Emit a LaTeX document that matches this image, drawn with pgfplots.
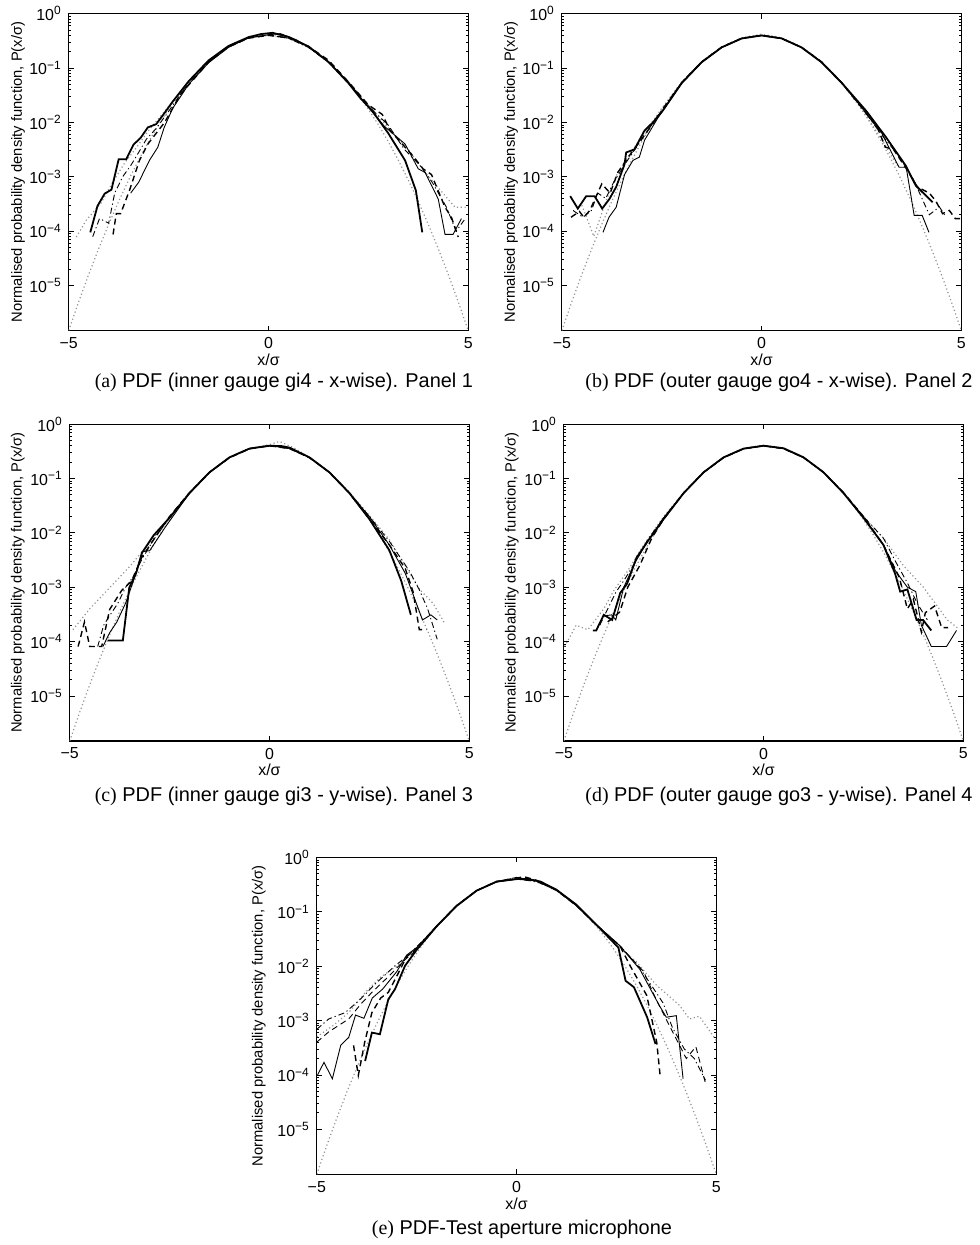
\documentclass[border=0pt]{standalone}
\usepackage{fontspec}
\setmainfont{Liberation Sans}
\newfontfamily\capserif{Liberation Serif}
\usepackage{pgfplots}
\usepackage{pgfplotstable}
\pgfplotsset{compat=1.18}

% standard normal pdf, sampled every 0.25
\pgfplotstableread{
x p
-5 1.487e-6
-4.75 5.032e-6
-4.5 1.598e-5
-4.25 4.772e-5
-4 1.338e-4
-3.75 3.526e-4
-3.5 8.727e-4
-3.25 2.029e-3
-3 4.432e-3
-2.75 9.094e-3
-2.5 1.753e-2
-2.25 3.174e-2
-2 5.399e-2
-1.75 8.628e-2
-1.5 0.12952
-1.25 0.18265
-1 0.24197
-0.75 0.30114
-0.5 0.35207
-0.25 0.38667
0 0.39894
0.25 0.38667
0.5 0.35207
0.75 0.30114
1 0.24197
1.25 0.18265
1.5 0.12952
1.75 8.628e-2
2 5.399e-2
2.25 3.174e-2
2.5 1.753e-2
2.75 9.094e-3
3 4.432e-3
3.25 2.029e-3
3.5 8.727e-4
3.75 3.526e-4
4 1.338e-4
4.25 4.772e-5
4.5 1.598e-5
4.75 5.032e-6
5 1.487e-6
}\gauss

\pgfplotsset{
  pdfax/.style={
    scale only axis, width=200.5pt, height=159pt,
    xmin=-5, xmax=5, ymin=1.487e-6, ymax=1,
    xtick={-5,0,5}, xticklabels={−5,0,5},
    ytick={1e-5,1e-4,1e-3,1e-2,1e-1,1},
    yticklabels={10\textsuperscript{−5},10\textsuperscript{−4},10\textsuperscript{−3},10\textsuperscript{−2},10\textsuperscript{−1},10\textsuperscript{0}},
    tick label style={font=\fontsize{8}{9}\selectfont},
    label style={font=\fontsize{7.4}{8.5}\selectfont},
    xlabel={x/σ},
    xlabel style={font=\fontsize{8}{9}\selectfont, at={(axis description cs:0.5,-0.092)}, anchor=center},
    ylabel={Normalised probability density function, P(x/σ)},
    major tick length=2.5pt, minor tick length=1.3pt,
    tick style={black, line width=0.4pt},
    axis line style={line width=0.6pt},
  },
  gs/.style={color=black!42, line width=0.6pt, dash pattern=on 0.6pt off 1.3pt},
  s1/.style={black, line width=0.9pt},
  s2/.style={black, line width=0.45pt},
  s3/.style={black, line width=0.7pt, dash pattern=on 3pt off 2pt},
  s3t/.style={black, line width=0.45pt, dash pattern=on 3pt off 2pt},
  s4/.style={black, line width=0.45pt, dash pattern=on 3pt off 1.5pt on 0.6pt off 1.5pt},
}
\tikzset{capt/.style={font=\fontsize{10}{11}\selectfont}}

\begin{document}
\begin{tikzpicture}
\path (0,0) rectangle (490pt,-622.5pt);

% (a)
\begin{axis}[ymode=log, pdfax, at={(34.5pt,-165pt)}, anchor=south west,
  ylabel style={at={(axis description cs:-0.127,0.5)}, anchor=center}]
\addplot[gs] table {\gauss};
\addplot[gs] coordinates {(-4.81,7.8e-5) (-4.56,1.6e-4) (-4.2,3.2e-4) (-3.9,7.9e-4) (-3.6,1.8e-3) (-3.3,3.5e-3) (-3.0,7.1e-3) (-2.6,1.6e-2) (-2.0,5.5e-2) (-1.5,0.13) (-1.0,0.245) (-0.5,0.355) (0,0.40) (0.5,0.35) (1.0,0.24) (1.5,0.13) (2.0,5.6e-2) (2.5,2.1e-2) (3.0,7.9e-3) (3.5,3.2e-3) (3.92,1.2e-3) (4.25,6.3e-4) (4.67,2.75e-4) (5.0,2.75e-4)};
\addplot[s4] coordinates {(-4.40,7.9e-5) (-4.23,1.7e-4) (-4.0,1.4e-4) (-3.85,5.0e-4) (-3.65,1.0e-3) (-3.45,1.6e-3) (-3.25,2.8e-3) (-3.05,5.0e-3) (-2.8,7.9e-3) (-2.5,1.6e-2) (-2.0,5.3e-2) (-1.5,0.13) (-1.0,0.25) (-0.5,0.36) (0,0.405) (0.5,0.355) (1.0,0.24) (1.5,0.128) (2.0,5.5e-2) (2.5,2.0e-2) (3.0,8.9e-3) (3.4,3.2e-3) (3.8,1.6e-3) (4.1,7.9e-4) (4.45,2.8e-4) (4.7,1.0e-4) (4.9,1.6e-4)};
\addplot[s3] coordinates {(-3.89,8.7e-5) (-3.81,2.1e-4) (-3.70,2.1e-4) (-3.48,5.6e-4) (-3.23,2.0e-3) (-3.02,4.0e-3) (-2.6,1.0e-2) (-2.2,3.3e-2) (-1.5,0.128) (-1.0,0.245) (-0.5,0.355) (0,0.40) (0.5,0.36) (1.0,0.25) (1.5,0.14) (2.0,5.6e-2) (2.5,2.1e-2) (2.85,1.4e-2) (3.05,7.0e-3) (3.6,2.5e-3) (3.87,1.4e-3) (4.08,1.1e-3) (4.42,2.75e-4) (4.58,1.8e-4) (4.75,7.8e-5)};
\addplot[s2] coordinates {(-3.45,5.0e-4) (-3.25,7.9e-4) (-2.98,2.0e-3) (-2.77,3.5e-3) (-2.61,8.1e-3) (-2.4,1.8e-2) (-2.0,5.0e-2) (-1.5,0.125) (-1.0,0.24) (-0.5,0.36) (0,0.41) (0.3,0.43) (0.7,0.33) (1.0,0.245) (1.5,0.13) (2.0,5.5e-2) (2.5,1.9e-2) (2.9,8.5e-3) (3.42,4.0e-3) (3.75,1.4e-3) (3.92,1.2e-3) (4.25,3.9e-4) (4.42,8.7e-5) (4.62,8.7e-5) (4.83,1.7e-4)};
\addplot[s1] coordinates {(-4.46,9.5e-5) (-4.28,2.9e-4) (-4.10,4.9e-4) (-3.93,5.8e-4) (-3.75,2.1e-3) (-3.56,2.1e-3) (-3.38,3.9e-3) (-3.20,5.2e-3) (-3.02,8.1e-3) (-2.81,9.3e-3) (-2.6,1.5e-2) (-2.4,2.4e-2) (-2.0,5.7e-2) (-1.5,0.138) (-1.0,0.255) (-0.5,0.37) (-0.2,0.42) (0.1,0.445) (0.5,0.375) (1.0,0.25) (1.5,0.13) (2.0,5.3e-2) (2.3,2.8e-2) (2.59,1.66e-2) (3.0,6.3e-3) (3.42,2.0e-3) (3.69,5.6e-4) (3.85,9.5e-5)};
\end{axis}
\node[capt] at (142.5pt,-191pt) {{\capserif (a)} PDF (inner gauge gi4 - x-wise). Panel 1};

% (b)
\begin{axis}[ymode=log, pdfax, at={(282pt,-165pt)}, anchor=south west,
  ylabel style={at={(axis description cs:-0.127,0.5)}, anchor=center}]
\addplot[gs] table {\gauss};
\addplot[gs] coordinates {(-4.5,3.0e-4) (-4.2,8.0e-5) (-3.9,3.5e-4) (-3.6,1.2e-3) (-3.3,2.6e-3) (-3.0,5.5e-3) (-2.5,1.8e-2) (-2.0,5.5e-2) (-1.5,0.13) (-1.0,0.242) (-0.5,0.36) (0,0.42) (0.5,0.36) (1.0,0.24) (1.5,0.128) (2.0,5.3e-2) (2.5,1.8e-2) (3.0,5.0e-3) (3.4,1.6e-3)};
\addplot[s4] coordinates {(-4.72,2.4e-4) (-4.47,1.8e-4) (-4.26,2.4e-4) (-4.1,5.0e-4) (-3.9,4.0e-4) (-3.7,8.0e-4) (-3.4,1.8e-3) (-3.1,3.8e-3) (-2.8,8.0e-3) (-2.5,1.7e-2) (-2.0,5.4e-2) (-1.5,0.13) (-1.0,0.24) (-0.5,0.35) (0,0.40) (0.5,0.35) (1.0,0.24) (1.5,0.128) (2.0,5.4e-2) (2.5,1.9e-2) (3.0,6.0e-3) (3.4,2.6e-3) (3.8,9.0e-4) (4.2,2.0e-4) (4.45,2.8e-4) (4.6,1.9e-4)};
\addplot[s3] coordinates {(-4.77,1.8e-4) (-4.56,2.3e-4) (-4.45,1.8e-4) (-4.3,2.4e-4) (-4.0,7.4e-4) (-3.79,5.0e-4) (-3.6,1.2e-3) (-3.3,2.5e-3) (-3.0,5.0e-3) (-2.6,1.25e-2) (-2.0,5.4e-2) (-1.5,0.13) (-1.0,0.242) (-0.5,0.352) (0,0.40) (0.5,0.35) (1.0,0.24) (1.5,0.13) (2.0,5.4e-2) (2.5,1.9e-2) (2.9,8.0e-3) (3.1,3.5e-3) (3.3,3.2e-3) (3.6,1.5e-3) (3.9,6.5e-4) (4.2,5.0e-4) (4.36,3.6e-4) (4.53,2.1e-4) (4.7,2.4e-4) (4.85,1.7e-4) (5.0,1.7e-4)};
\addplot[s2] coordinates {(-3.97,9.5e-5) (-3.82,1.8e-4) (-3.64,2.75e-4) (-3.43,1.1e-3) (-3.22,2.0e-3) (-3.06,2.3e-3) (-2.93,4.7e-3) (-2.6,1.2e-2) (-2.0,5.2e-2) (-1.5,0.127) (-1.0,0.24) (-0.5,0.35) (0,0.395) (0.5,0.35) (1.0,0.24) (1.5,0.13) (2.0,5.5e-2) (2.5,1.9e-2) (3.0,6.5e-3) (3.44,1.5e-3) (3.62,1.5e-3) (3.82,1.95e-4) (4.02,1.95e-4) (4.19,9.5e-5)};
\addplot[s1] coordinates {(-4.79,4.4e-4) (-4.60,2.6e-4) (-4.39,4.4e-4) (-4.18,4.4e-4) (-3.99,2.6e-4) (-3.81,3.9e-4) (-3.64,6.5e-4) (-3.43,1.7e-3) (-3.39,2.8e-3) (-3.18,3.2e-3) (-2.93,7.1e-3) (-2.72,1.0e-2) (-2.47,1.66e-2) (-2.0,5.3e-2) (-1.5,0.128) (-1.0,0.24) (-0.5,0.35) (0,0.398) (0.5,0.352) (1.0,0.24) (1.5,0.128) (2.0,5.4e-2) (2.61,1.66e-2) (3.11,5.4e-3) (3.61,1.6e-3) (3.86,6.9e-4) (4.28,3.4e-4)};
\end{axis}
\node[capt] at (391pt,-191pt) {{\capserif (b)} PDF (outer gauge go4 - x-wise). Panel 2};

% (c)
\begin{axis}[ymode=log, pdfax, at={(35pt,-371pt)}, anchor=south west,
  ylabel style={at={(axis description cs:-0.13,0.5)}, anchor=center}]
\addplot[gs] table {\gauss};
\addplot[gs] coordinates {(-4.92,1.65e-4) (-4.5,4.0e-4) (-4.0,9.8e-4) (-3.5,2.4e-3) (-3.0,6.5e-3) (-2.5,2.0e-2) (-2.0,5.6e-2) (-1.5,0.13) (-1.0,0.245) (-0.5,0.36) (0,0.42) (0.25,0.48) (0.6,0.37) (1.0,0.245) (1.5,0.13) (2.0,5.6e-2) (2.5,2.1e-2) (3.0,7.5e-3) (3.76,9.1e-4) (4.1,5.0e-4) (4.38,2.2e-4)};
\addplot[s4] coordinates {(-4.3,8.1e-5) (-4.15,2.0e-4) (-4.0,3.0e-4) (-3.8,5.0e-4) (-3.6,1.0e-3) (-3.4,1.6e-3) (-3.2,3.2e-3) (-2.9,7.5e-3) (-2.5,1.9e-2) (-2.0,5.4e-2) (-1.5,0.13) (-1.0,0.242) (-0.5,0.352) (0,0.40) (0.5,0.355) (1.0,0.24) (1.5,0.13) (2.0,5.5e-2) (2.5,2.0e-2) (3.0,7.0e-3) (3.5,2.0e-3) (3.75,9.0e-4) (3.96,4.0e-4) (4.2,1.1e-4)};
\addplot[s3] coordinates {(-4.79,8.1e-5) (-4.63,2.3e-4) (-4.5,8.1e-5) (-4.2,8.1e-5) (-4.0,3.9e-4) (-3.7,8.7e-4) (-3.45,1.3e-3) (-3.2,3.5e-3) (-2.9,7.5e-3) (-2.5,2.0e-2) (-2.0,5.5e-2) (-1.5,0.13) (-1.0,0.242) (-0.5,0.352) (0,0.40) (0.5,0.355) (1.0,0.242) (1.5,0.13) (2.0,5.4e-2) (2.5,1.8e-2) (3.0,6.0e-3) (3.4,2.2e-3) (3.6,8.0e-4) (3.75,1.66e-4) (3.93,1.66e-4)};
\addplot[s2] coordinates {(-4.17,8.1e-5) (-4.0,1.45e-4) (-3.82,2.3e-4) (-3.6,5.1e-4) (-3.34,1.8e-3) (-3.19,4.5e-3) (-3.0,4.7e-3) (-2.6,1.3e-2) (-2.0,5.4e-2) (-1.5,0.13) (-1.0,0.243) (-0.5,0.355) (0,0.40) (0.5,0.36) (1.0,0.245) (1.5,0.13) (2.0,5.4e-2) (2.5,2.0e-2) (3.0,6.0e-3) (3.4,1.8e-3) (3.83,2.5e-4) (4.04,3.1e-4) (4.2,2.5e-4)};
\addplot[s1] coordinates {(-4.05,1.05e-4) (-3.67,1.05e-4) (-3.51,9.8e-4) (-3.34,1.8e-3) (-3.19,4.3e-3) (-2.9,9.0e-3) (-2.5,1.9e-2) (-2.0,5.4e-2) (-1.5,0.13) (-1.0,0.245) (-0.5,0.355) (0,0.40) (0.3,0.395) (0.5,0.37) (1.0,0.245) (1.5,0.13) (2.0,5.4e-2) (2.5,1.8e-2) (3.0,4.8e-3) (3.3,1.3e-3) (3.54,3.1e-4)};
\end{axis}
\node[capt] at (142.5pt,-399pt) {{\capserif (c)} PDF (inner gauge gi3 - y-wise). Panel 3};

% (d)
\begin{axis}[ymode=log, pdfax, at={(283pt,-371pt)}, anchor=south west,
  ylabel style={at={(axis description cs:-0.13,0.5)}, anchor=center}]
\addplot[gs] table {\gauss};
\addplot[gs] coordinates {(-4.98,8.1e-5) (-4.69,2.0e-4) (-4.40,1.65e-4) (-4.0,4.0e-4) (-3.74,8.9e-4) (-3.4,2.0e-3) (-3.0,6.0e-3) (-2.5,2.0e-2) (-2.0,5.5e-2) (-1.5,0.13) (-1.0,0.245) (-0.5,0.355) (0,0.41) (0.5,0.36) (1.0,0.245) (1.5,0.13) (2.0,5.6e-2) (2.5,2.0e-2) (3.0,8.0e-3) (3.5,2.5e-3) (4.0,1.0e-3) (4.3,5.0e-4) (4.6,2.5e-4) (4.85,1.8e-4)};
\addplot[s4] coordinates {(-4.1,2.0e-4) (-3.9,4.0e-4) (-3.7,8.0e-4) (-3.45,1.5e-3) (-3.2,3.0e-3) (-2.9,7.5e-3) (-2.5,1.9e-2) (-2.0,5.4e-2) (-1.5,0.13) (-1.0,0.243) (-0.5,0.352) (0,0.40) (0.5,0.355) (1.0,0.243) (1.5,0.13) (2.0,5.5e-2) (2.5,2.0e-2) (3.0,8.0e-3) (3.3,3.0e-3) (3.6,1.2e-3) (3.85,5.0e-4) (4.1,2.5e-4)};
\addplot[s3] coordinates {(-3.9,2.3e-4) (-3.6,3.5e-4) (-3.4,1.0e-3) (-3.1,2.5e-3) (-2.8,8.0e-3) (-2.5,1.8e-2) (-2.0,5.4e-2) (-1.5,0.13) (-1.0,0.242) (-0.5,0.352) (0,0.40) (0.5,0.355) (1.0,0.243) (1.5,0.13) (2.0,5.5e-2) (2.5,2.0e-2) (3.0,6.0e-3) (3.4,1.5e-3) (3.6,4.0e-4) (3.75,6.0e-4) (3.95,1.5e-4) (4.05,3.4e-4) (4.28,4.5e-4) (4.46,1.8e-4) (4.62,1.8e-4)};
\addplot[s2] coordinates {(-3.95,3.0e-4) (-3.8,3.1e-4) (-3.7,2.5e-4) (-3.5,1.0e-3) (-3.2,3.0e-3) (-2.9,7.0e-3) (-2.5,1.9e-2) (-2.0,5.4e-2) (-1.5,0.13) (-1.0,0.243) (-0.5,0.352) (0,0.40) (0.5,0.355) (1.0,0.243) (1.5,0.13) (2.0,5.4e-2) (2.5,1.9e-2) (3.0,6.0e-3) (3.3,2.0e-3) (3.6,1.0e-3) (3.81,8.3e-4) (3.95,2.0e-4) (4.2,8.1e-5) (4.58,8.1e-5) (4.83,1.6e-4)};
\addplot[s1] coordinates {(-4.27,1.6e-4) (-4.19,1.6e-4) (-4.0,3.1e-4) (-3.79,2.5e-4) (-3.59,7.8e-4) (-3.42,1.15e-3) (-3.18,3.5e-3) (-2.9,7.0e-3) (-2.5,1.8e-2) (-2.0,5.4e-2) (-1.5,0.13) (-1.0,0.245) (-0.5,0.355) (0,0.40) (0.5,0.36) (1.0,0.245) (1.5,0.13) (2.0,5.4e-2) (2.5,1.9e-2) (3.0,6.0e-3) (3.29,1.8e-3) (3.42,8.3e-4) (3.6,9.1e-4) (3.83,2.5e-4) (3.99,2.5e-4) (4.2,1.6e-4)};
\end{axis}
\node[capt] at (391pt,-399pt) {{\capserif (d)} PDF (outer gauge go3 - y-wise). Panel 4};

% (e)
\begin{axis}[ymode=log, pdfax, at={(159pt,-588.5pt)}, anchor=south west,
  ylabel style={at={(axis description cs:-0.145,0.5)}, anchor=center}]
\addplot[gs] table {\gauss};
\addplot[gs] coordinates {(-5.0,5.0e-4) (-4.6,8.0e-4) (-4.2,1.4e-3) (-3.8,3.2e-3) (-3.4,6.3e-3) (-3.0,1.0e-2) (-2.5,2.0e-2) (-2.0,5.4e-2) (-1.5,0.13) (-1.0,0.245) (-0.5,0.355) (0,0.41) (0.5,0.37) (1.0,0.25) (1.5,0.13) (2.0,5.7e-2) (2.5,2.4e-2) (3.0,1.2e-2) (3.5,4.5e-3) (4.08,1.9e-3) (4.33,1.07e-3) (4.58,1.2e-3) (5.0,4.3e-4)};
\addplot[s4] coordinates {(-5.0,6.9e-4) (-4.70,1.07e-3) (-4.29,1.4e-3) (-3.9,2.5e-3) (-3.54,4.7e-3) (-3.04,1.02e-2) (-2.7,1.6e-2) (-2.0,5.4e-2) (-1.5,0.13) (-1.0,0.245) (-0.5,0.355) (0,0.40) (0.5,0.36) (1.0,0.25) (1.5,0.13) (2.0,5.7e-2) (2.59,2.36e-2) (3.1,9.0e-3) (3.67,2.1e-3) (3.9,7.5e-4) (4.2,3.0e-4) (4.45,2.0e-4) (4.73,8.0e-5)};
\addplot[s3t] coordinates {(-5.0,4.0e-4) (-4.7,6.2e-4) (-4.2,1.07e-3) (-3.9,2.0e-3) (-3.62,3.3e-3) (-3.2,6.5e-3) (-2.8,1.3e-2) (-2.5,2.0e-2) (-2.0,5.4e-2) (-1.5,0.13) (-1.0,0.245) (-0.5,0.36) (0,0.43) (0.5,0.37) (1.0,0.25) (1.5,0.13) (2.0,5.7e-2) (2.59,2.36e-2) (3.18,8.0e-3) (3.5,2.4e-3) (3.85,7.5e-4) (4.25,2.0e-4) (4.49,3.3e-4) (4.73,7.0e-5)};
\addplot[s3] coordinates {(-4.08,3.5e-4) (-3.96,9.8e-5) (-3.8,4.0e-4) (-3.62,1.4e-3) (-3.4,2.6e-3) (-3.21,3.3e-3) (-3.0,6.5e-3) (-2.75,1.5e-2) (-2.5,2.1e-2) (-2.0,5.4e-2) (-1.5,0.13) (-1.0,0.245) (-0.5,0.36) (0,0.42) (0.2,0.44) (0.5,0.38) (1.0,0.25) (1.5,0.13) (2.0,5.7e-2) (2.59,2.36e-2) (2.85,1.0e-2) (3.26,2.9e-3) (3.51,4.0e-4) (3.6,8.9e-5)};
\addplot[s2] coordinates {(-4.98,1.0e-4) (-4.82,1.7e-4) (-4.61,8.5e-5) (-4.40,3.5e-4) (-4.20,4.9e-4) (-4.03,1.26e-3) (-3.82,1.1e-3) (-3.61,2.6e-3) (-3.35,3.8e-3) (-3.0,7.9e-3) (-2.75,1.6e-2) (-2.5,2.2e-2) (-2.0,5.5e-2) (-1.5,0.13) (-1.0,0.245) (-0.5,0.355) (0,0.40) (0.5,0.37) (1.0,0.255) (1.5,0.135) (2.0,5.8e-2) (2.59,2.36e-2) (3.09,8.7e-3) (3.58,1.86e-3) (3.75,1.15e-3) (4.0,1.23e-3) (4.17,8.5e-5)};
\addplot[s1] coordinates {(-3.79,1.8e-4) (-3.62,6.0e-4) (-3.42,5.6e-4) (-3.21,2.45e-3) (-3.04,3.8e-3) (-2.79,1.02e-2) (-2.5,2.0e-2) (-2.0,5.4e-2) (-1.5,0.128) (-1.0,0.245) (-0.5,0.36) (0,0.40) (0.3,0.40) (0.6,0.36) (1.0,0.255) (1.5,0.135) (2.0,5.8e-2) (2.55,2.2e-2) (2.73,5.4e-3) (2.94,4.1e-3) (3.27,1.15e-3) (3.48,3.7e-4)};
\end{axis}
\node[capt] at (262pt,-616pt) {{\capserif (e)} PDF-Test aperture microphone};
\end{tikzpicture}
\end{document}
